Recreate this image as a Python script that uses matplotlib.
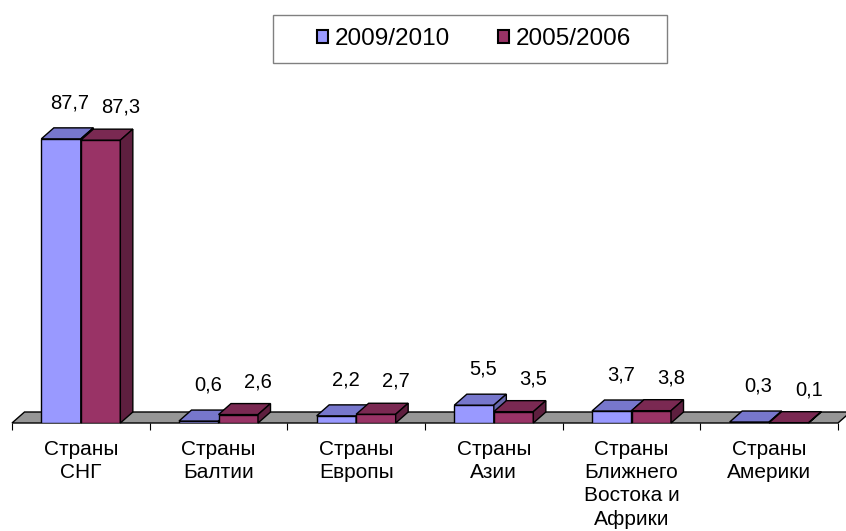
import matplotlib
matplotlib.use("Agg")
import matplotlib.pyplot as plt
from matplotlib.patches import Polygon, Rectangle, Patch
import numpy as np

plt.rcParams['font.family'] = ['Liberation Sans', 'DejaVu Sans']

categories = ["Страны\nСНГ", "Страны\nБалтии", "Страны\nЕвропы", "Страны\nАзии",
              "Страны\nБлижнего\nВостока и\nАфрики", "Страны\nАмерики"]
series_names = ["2009/2010", "2005/2006"]
values_2009 = [87.7, 0.6, 2.2, 5.5, 3.7, 0.3]
values_2005 = [87.3, 2.6, 2.7, 3.5, 3.8, 0.1]

W, H, DPI = 846, 531, 100
fig = plt.figure(figsize=(W / DPI, H / DPI), dpi=DPI)

# axes placement in pixels
ax_left, ax_right, ax_bottom, ax_top = 12, 838, 423, 99
ax = fig.add_axes([ax_left / W, 1 - ax_bottom / H, (ax_right - ax_left) / W, (ax_bottom - ax_top) / H])
n = len(categories)
ax.set_xlim(-0.5, n - 0.5)
ax.set_ylim(0, 100)

px_per_x = (ax_right - ax_left) / n
px_per_y = (ax_bottom - ax_top) / 100.0
depth_px_x, depth_px_y = 12.5, 11
ddx = depth_px_x / px_per_x
ddy = depth_px_y / px_per_y

# floor
floor = Polygon([(-0.5, 0), (n - 0.5, 0), (n - 0.5 + ddx, ddy), (-0.5 + ddx, ddy)],
                closed=True, facecolor='#969696', edgecolor='black', lw=1, zorder=1, clip_on=False)
ax.add_patch(floor)

bw = 0.287
x = np.arange(n)
styles = [
    dict(front='#9999FF', top='#7777CC', side='#6666AA'),
    dict(front='#993366', top='#7A2952', side='#5E1F3F'),
]
series = [values_2009, values_2005]
offsets = [-bw / 2, bw / 2]
label_offsets = [(9, 36), (20, 33)]

for si, (vals, st, off) in enumerate(zip(series, styles, offsets)):
    z = 3 + si
    xs = x + off
    ax.bar(xs, vals, width=bw, color=st['front'], edgecolor='black', lw=1, zorder=z)
    for xc, v in zip(xs, vals):
        l, r = xc - bw / 2, xc + bw / 2
        top = Polygon([(l, v), (r, v), (r + ddx, v + ddy), (l + ddx, v + ddy)], closed=True,
                      facecolor=st['top'], edgecolor='black', lw=1, zorder=z, clip_on=False)
        side = Polygon([(r, 0), (r + ddx, ddy), (r + ddx, v + ddy), (r, v)], closed=True,
                       facecolor=st['side'], edgecolor='black', lw=1, zorder=z, clip_on=False)
        ax.add_patch(top)
        ax.add_patch(side)
        lx, ly = label_offsets[si]
        ax.annotate(f"{v:.1f}".replace('.', ','), (xc, v), xytext=(lx, ly),
                    textcoords='offset pixels', ha='center', va='center', fontsize=14.5,
                    zorder=10, annotation_clip=False)

# axes styling
for s in ax.spines.values():
    s.set_visible(False)
ax.yaxis.set_visible(False)
ax.set_xticks(np.arange(n + 1) - 0.5)
ax.set_xticklabels([])
ax.tick_params(axis='x', which='major', direction='out', length=5, width=0.8, color='black')
ax.set_xticks(x, minor=True)
ax.set_xticklabels(categories, minor=True, fontsize=15, va='top', linespacing=1.29)
ax.tick_params(axis='x', which='minor', length=0, pad=12)
ax.patch.set_visible(False)

# legend
fig.patches.append(Rectangle((273 / W, 1 - 63 / H), 394 / W, 48 / H, transform=fig.transFigure,
                             fill=False, edgecolor='#808080', lw=1))
handles = [Patch(facecolor=styles[i]['front'], edgecolor='black', lw=1.5, label=series_names[i]) for i in range(2)]
fig.legend(handles=handles, loc='center', bbox_to_anchor=(474 / W, 1 - 39 / H), ncol=2, frameon=False,
           fontsize=17.5, handlelength=0.45, handleheight=0.45, handletextpad=0.25, columnspacing=2.0)

fig.savefig('out.png', dpi=DPI)
